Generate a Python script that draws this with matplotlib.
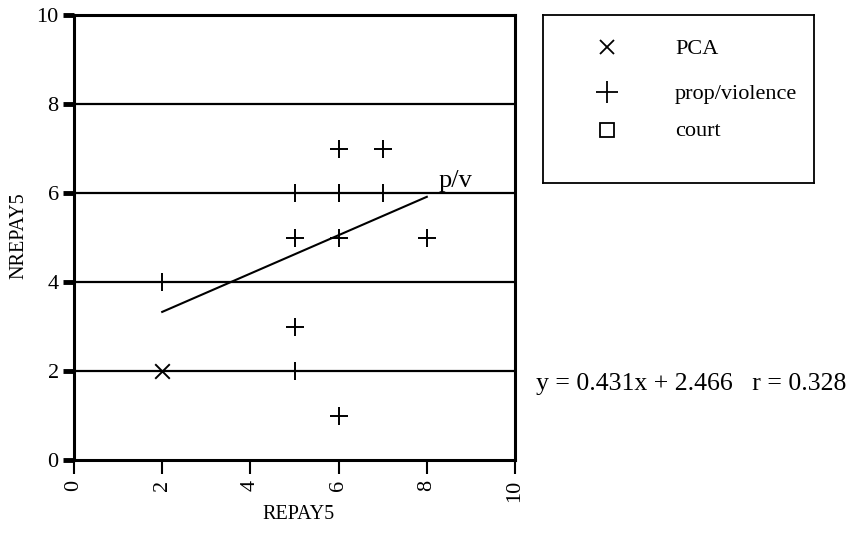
import matplotlib
matplotlib.use("Agg")
import matplotlib.pyplot as plt

plt.rcParams['font.family'] = ['Liberation Serif', 'DejaVu Serif']

# PCA group
pca_x = [2]
pca_y = [2]

# property / violence group
pv_x = [2, 5, 6, 6, 7, 6, 7, 5, 6, 8, 5, 5, 6]
pv_y = [4, 6, 6, 6, 6, 7, 7, 5, 5, 5, 3, 2, 1]

# fitted line for the prop/violence group
slope = 0.431
intercept = 2.466
r_value = 0.328
fit_x = [2, 8]

x_ticks = [0, 2, 4, 6, 8, 10]
y_ticks = [0, 2, 4, 6, 8, 10]

fig = plt.figure(figsize=(8.5, 5.4), dpi=100)
W, H = 850, 540
ax = fig.add_axes([74 / W, 1 - 460 / H, (515 - 74) / W, (460 - 15) / H])

ax.set_xlim(0, 10)
ax.set_ylim(0, 10)
for yv in [2, 4, 6, 8]:
    ax.axhline(yv, color='black', lw=1.6, zorder=1)

ax.scatter(pca_x, pca_y, marker='x', s=110, color='black', linewidths=1.4, zorder=3)
ax.scatter(pv_x, pv_y, marker='+', s=150, color='black', linewidths=1.4, zorder=3)

fit_y = [slope * v + intercept for v in fit_x]
ax.plot(fit_x, fit_y, color='black', lw=1.5, zorder=2)
ax.text(fit_x[-1] + 0.27, fit_y[-1] + 0.22, 'p/v', fontsize=19, ha='left', va='baseline')

for s in ax.spines.values():
    s.set_linewidth(2.2)
ax.set_xticks(x_ticks)
ax.set_yticks(y_ticks)
ax.set_xticklabels([str(v) for v in x_ticks], rotation=90, fontsize=16)
ax.set_yticklabels([str(v) for v in y_ticks], fontsize=16)
ax.tick_params(axis='y', direction='out', length=8, width=3.5, pad=3)
ax.tick_params(axis='x', direction='out', length=10, width=1.5, pad=4)
ax.set_xlabel('REPAY5', fontsize=14.5)
ax.set_ylabel('NREPAY5', fontsize=14.5)
ax.xaxis.set_label_coords(0.508, -0.102)
ax.yaxis.set_label_coords(-0.104, 0.505)

fig.text(536 / W, 1 - 384 / H,
         f'y = {slope:.3f}x + {intercept:.3f}   r = {r_value:.3f}',
         fontsize=18.5, ha='left', va='center')

# legend panel
lax = fig.add_axes([543 / W, 1 - 183 / H, (814 - 543) / W, (183 - 15) / H])
lax.set_xlim(0, 271)
lax.set_ylim(168, 0)
lax.set_xticks([])
lax.set_yticks([])
for s in lax.spines.values():
    s.set_linewidth(1.3)
entries = [('x', 'PCA', 32, 10), ('+', 'prop/violence', 77, 16), ('s', 'court', 115, 10)]
for mk, label, yy, ms in entries:
    if mk == 's':
        lax.plot([64], [yy], marker=mk, ms=ms, mfc='none', mec='black', mew=1.3)
    else:
        lax.plot([64], [yy], marker=mk, ms=ms, color='black', mew=1.3)
    lax.text(132, yy + 2, label, fontsize=16, ha='left', va='center')

fig.savefig('out.png', dpi=100)
